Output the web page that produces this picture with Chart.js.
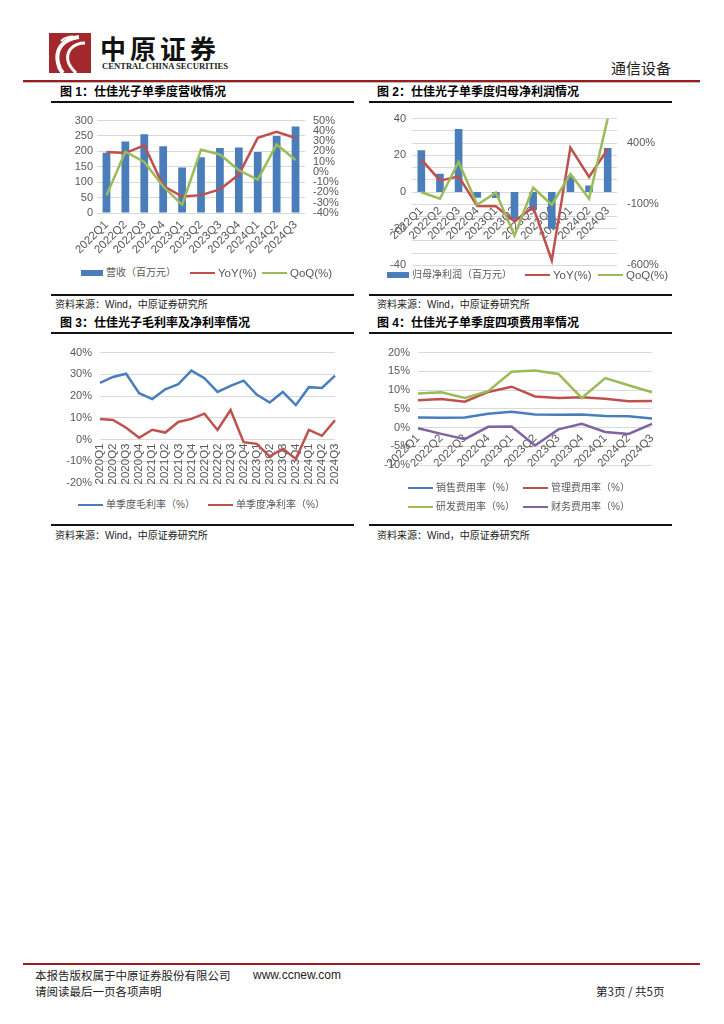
<!DOCTYPE html>
<html>
<head>
<meta charset="utf-8">
<script src="https://cdn.jsdelivr.net/npm/chart.js@4.4.1/dist/chart.umd.min.js"></script>
<style>
  body { margin: 0; background: #fff; }
  #page { position: relative; width: 724px; height: 1024px; overflow: hidden; background: #fff;
          font-family: "Liberation Sans", "Noto Sans CJK SC", sans-serif; color: #000; }
  .abs { position: absolute; white-space: nowrap; }
  .title { font-weight: bold; font-size: 12px; line-height: 14px; }
  .rule { position: absolute; height: 2px; background: #111; }
  .src { font-size: 10px; line-height: 12px; color: #222; }
  .leg { position: absolute; display: flex; align-items: center; font-size: 10px; line-height: 12px; color: #595959; white-space: nowrap; }
  .leg .lat { font-size: 11.5px; }
  canvas { position: absolute; }
</style>
</head>
<body>
<div id="page">
  <!-- header -->
  <svg class="abs" style="left:49px;top:33px" width="42" height="40" viewBox="0 0 42 40">
    <rect width="42" height="40" fill="#A3282D"/>
    <path d="M30 4 C14 6 6 16 9 30 C10 35 12 38 14 40" stroke="#fff" stroke-width="4" fill="none"/>
    <path d="M36 10 C24 10 17 18 19 28 C20 33 24 37 27 40" stroke="#fff" stroke-width="3" fill="none"/>
    <path d="M12 8 C16 4 22 3 26 4" stroke="#fff" stroke-width="2" fill="none"/>
  </svg>
  <div class="abs" style="left:100px;top:33px;font-family:'Noto Sans CJK SC';font-weight:700;font-size:26px;line-height:30px;letter-spacing:4px;color:#111">中原证券</div>
  <div class="abs" style="left:102px;top:61px;font-family:'Liberation Serif';font-weight:bold;font-size:8.6px;line-height:10px;color:#222">CENTRAL CHINA SECURITIES</div>
  <div class="abs" style="left:611px;top:59px;font-family:'Noto Sans CJK SC';font-size:15px;line-height:18px;color:#222">通信设备</div>
  <div class="abs" style="left:23px;top:80px;width:677px;height:2px;background:#9B1D20"></div>
  <div class="abs" style="left:23px;top:82px;width:677px;height:1px;background:#bbb"></div>

  <!-- titles -->
  <div class="abs title" style="left:60px;top:85px">图 1：仕佳光子单季度营收情况</div>
  <div class="rule" style="left:51px;top:101px;width:303px"></div>
  <div class="abs title" style="left:377px;top:85px">图 2：仕佳光子单季度归母净利润情况</div>
  <div class="rule" style="left:369px;top:101px;width:303px"></div>

  <div class="rule" style="left:51px;top:294px;width:303px"></div>
  <div class="abs src" style="left:55px;top:299px">资料来源：Wind，中原证券研究所</div>
  <div class="rule" style="left:369px;top:294px;width:303px"></div>
  <div class="abs src" style="left:377px;top:299px">资料来源：Wind，中原证券研究所</div>

  <div class="abs title" style="left:60px;top:316px">图 3：仕佳光子毛利率及净利率情况</div>
  <div class="rule" style="left:51px;top:332px;width:303px"></div>
  <div class="abs title" style="left:377px;top:316px">图 4：仕佳光子单季度四项费用率情况</div>
  <div class="rule" style="left:369px;top:332px;width:303px"></div>

  <div class="rule" style="left:51px;top:524px;width:303px"></div>
  <div class="abs src" style="left:55px;top:530px">资料来源：Wind，中原证券研究所</div>
  <div class="rule" style="left:369px;top:524px;width:303px"></div>
  <div class="abs src" style="left:377px;top:530px">资料来源：Wind，中原证券研究所</div>

  <canvas id="c1" width="320" height="155" style="left:40px;top:106px"></canvas>
  <canvas id="c2" width="320" height="180" style="left:365px;top:102px"></canvas>
  <canvas id="c3" width="320" height="160" style="left:40px;top:338px"></canvas>
  <canvas id="c4" width="320" height="160" style="left:365px;top:338px"></canvas>

  <!-- footer -->
  <div class="abs" style="left:23px;top:963px;width:677px;height:2px;background:#9B1D20"></div>
  <div class="abs" style="left:35px;top:968px;font-family:'Noto Sans CJK SC';font-size:11.5px;line-height:14px;color:#222">本报告版权属于中原证券股份有限公司</div>
  <div class="abs" style="left:253px;top:968px;font-size:12px;line-height:14px;color:#222">www.ccnew.com</div>
  <div class="abs" style="left:35px;top:984px;font-family:'Noto Sans CJK SC';font-size:11.5px;line-height:14px;color:#222">请阅读最后一页各项声明</div>
  <div class="abs" style="left:596px;top:984px;font-family:'Noto Sans CJK SC';font-size:11.5px;line-height:14px;color:#222">第3页 / 共5页</div>
</div>

<script>
// 季度标签
const quartersA = ["2022Q1", "2022Q2", "2022Q3", "2022Q4", "2023Q1", "2023Q2", "2023Q3", "2023Q4", "2024Q1", "2024Q2", "2024Q3"];
const quartersB = ["2020Q1", "2020Q2", "2020Q3", "2020Q4", "2021Q1", "2021Q2", "2021Q3", "2021Q4",
  "2022Q1", "2022Q2", "2022Q3", "2022Q4", "2023Q1", "2023Q2", "2023Q3", "2023Q4", "2024Q1", "2024Q2", "2024Q3"];

// 图1 营收（百万元）及增速
const revenue = [196, 232, 256, 217, 148, 181, 211, 213, 198, 250, 281];
const revenueYoY = [19.4, 18.4, 25.8, -13.5, -23.9, -22.6, -17.0, -2.6, 33.2, 39.0, 33.0];
const revenueQoQ = [-23.0, 19.7, 9.7, -14.2, -32.0, 21.6, 17.0, 1.6, -7.4, 26.8, 11.6];

// 图2 归母净利润（百万元）及增速
const netProfit = [22.7, 10.0, 34.4, -3.1, -3.3, -15.0, -9.8, -20.0, 8.6, 3.6, 24.0];
const profitYoY = [267, 93, 128, -115, -117, -240, -123, -559, 363, 123, 349];
const profitQoQ = [-2, -55, 245, -104, -5, -355, 35, -104, 147, -55, 600];

// 图3 毛利率、净利率（%）
const grossMargin = [26.1, 28.8, 30.3, 21.3, 18.6, 23.1, 25.5, 31.7, 28.2, 21.9, 24.7, 27.1, 20.7, 17.0, 21.9, 15.8, 24.1, 23.7, 29.4];
const netMargin = [9.4, 9.0, 5.4, 0.8, 4.5, 3.2, 8.1, 9.5, 11.9, 4.4, 13.6, -1.2, -2.0, -7.8, -4.2, -8.9, 4.4, 1.7, 8.9];

// 图4 四项费用率（%）
const sellingRate = [2.7, 2.6, 2.7, 3.7, 4.2, 3.5, 3.4, 3.5, 3.1, 3.0, 2.4];
const adminRate = [7.3, 7.6, 6.9, 9.5, 10.9, 8.3, 7.9, 8.1, 7.7, 7.0, 7.1];
const rdRate = [9.1, 9.4, 7.9, 9.7, 14.9, 15.2, 14.3, 7.9, 13.2, 11.3, 9.4];
const financeRate = [-0.2, -1.7, -3.1, 0.2, 0.3, -4.8, -0.5, 1.0, -1.2, -1.7, 1.0];

const BLUE = "#4A7EBB", RED = "#C0504D", GREEN = "#9BBB59", PURPLE = "#8064A2", GRID = "#D9D9D9";

Chart.defaults.font.family = '"Liberation Sans", "Noto Sans CJK SC", sans-serif';
Chart.defaults.font.size = 11;
Chart.defaults.color = "#595959";
Chart.defaults.animation = false;
Chart.defaults.plugins.legend.display = false;
Chart.defaults.plugins.tooltip.enabled = false;
Chart.defaults.elements.point.radius = 0;
Chart.defaults.elements.line.borderWidth = 2.5;
Chart.defaults.elements.line.tension = 0;

function lineSet(label, data, color, extra) {
  return Object.assign({ type: "line", label: label, data: data, borderColor: color, backgroundColor: color, fill: false }, extra || {});
}

// 图1
new Chart(document.getElementById("c1"), {
  data: {
    labels: quartersA,
    datasets: [
      lineSet("QoQ(%)", revenueQoQ, GREEN, { yAxisID: "y2", order: 1 }),
      lineSet("YoY(%)", revenueYoY, RED, { yAxisID: "y2", order: 2 }),
      { type: "bar", label: "营收（百万元）", data: revenue, backgroundColor: BLUE, yAxisID: "y",
        barPercentage: 0.41, categoryPercentage: 1, order: 3 }
    ]
  },
  options: {
    responsive: false,
    layout: { padding: { top: 11 } },
    scales: {
      x: { grid: { display: false, drawTicks: false }, border: { display: false },
           ticks: { minRotation: 45, maxRotation: 45, autoSkip: false, padding: 5, font: { size: 11.5 } },
           afterFit: (s) => { s.height = 48; } },
      y: { position: "left", min: 0, max: 300, ticks: { stepSize: 50, padding: 4, autoSkip: false },
           grid: { color: GRID, drawTicks: false }, border: { display: false },
           afterFit: (s) => { s.width = 57; } },
      y2: { position: "right", min: -40, max: 50,
            ticks: { stepSize: 10, padding: 8, autoSkip: false, callback: (v) => v + "%" },
            grid: { display: false, drawTicks: false }, border: { display: false },
            afterFit: (s) => { s.width = 55; } }
    }
  }
});

// 图2
new Chart(document.getElementById("c2"), {
  data: {
    labels: quartersA,
    datasets: [
      lineSet("QoQ(%)", profitQoQ, GREEN, { yAxisID: "y2", order: 1 }),
      lineSet("YoY(%)", profitYoY, RED, { yAxisID: "y2", order: 2 }),
      { type: "bar", label: "归母净利润（百万元）", data: netProfit, backgroundColor: BLUE, yAxisID: "y",
        barPercentage: 0.41, categoryPercentage: 1, order: 3 }
    ]
  },
  options: {
    responsive: false,
    layout: { padding: { top: 10, bottom: 4 } },
    scales: {
      x: { position: { y: 0 }, grid: { display: false, drawTicks: false }, border: { display: false },
           ticks: { minRotation: 45, maxRotation: 45, autoSkip: false, padding: 12, font: { size: 11.5 } } },
      y: { position: "left", min: -40, max: 40, ticks: { stepSize: 20, padding: 6, autoSkip: false },
           grid: { display: false, drawTicks: false }, border: { display: false },
           afterFit: (s) => { s.width = 47; } },
      y2: { position: "right", min: -600, max: 600,
            ticks: { stepSize: 100, padding: 10, autoSkip: false,
                     callback: (v) => ((v + 600) % 500 === 0 ? v + "%" : "") },
            grid: { color: GRID, drawTicks: false }, border: { display: false },
            afterFit: (s) => { s.width = 68; } }
    }
  }
});

// 图3
new Chart(document.getElementById("c3"), {
  type: "line",
  data: {
    labels: quartersB,
    datasets: [
      lineSet("单季度毛利率（%）", grossMargin, BLUE),
      lineSet("单季度净利率（%）", netMargin, RED)
    ]
  },
  options: {
    responsive: false,
    layout: { padding: { top: 12, right: 25, bottom: 15 } },
    scales: {
      x: { position: { y: 0 }, grid: { display: false, drawTicks: false }, border: { display: false },
           ticks: { minRotation: 90, maxRotation: 90, autoSkip: false, padding: 4, font: { size: 11.5 } } },
      y: { min: -20, max: 40, ticks: { stepSize: 10, padding: 8, autoSkip: false, callback: (v) => v + "%" },
           grid: { color: GRID, drawTicks: false }, border: { display: false },
           afterFit: (s) => { s.width = 60; } }
    }
  }
});

// 图4
new Chart(document.getElementById("c4"), {
  type: "line",
  data: {
    labels: quartersA,
    datasets: [
      lineSet("财务费用率（%）", financeRate, PURPLE),
      lineSet("研发费用率（%）", rdRate, GREEN),
      lineSet("管理费用率（%）", adminRate, RED),
      lineSet("销售费用率（%）", sellingRate, BLUE)
    ]
  },
  options: {
    responsive: false,
    layout: { padding: { top: 12, right: 33, bottom: 33 } },
    scales: {
      x: { position: { y: 0 }, grid: { display: false, drawTicks: false }, border: { display: false },
           ticks: { minRotation: 45, maxRotation: 45, autoSkip: false, padding: 4, font: { size: 11.5 } } },
      y: { min: -10, max: 20, ticks: { stepSize: 5, padding: 8, autoSkip: false, callback: (v) => v + "%" },
           grid: { color: GRID, drawTicks: false }, border: { display: false },
           afterFit: (s) => { s.width = 53; } }
    }
  }
});

// 图例
function addLegend(items) {
  const page = document.getElementById("page");
  items.forEach((it) => {
    const d = document.createElement("div");
    d.className = "leg";
    d.style.left = it.x + "px";
    d.style.top = (it.y - 6) + "px";
    const sw = document.createElement("span");
    sw.style.display = "inline-block";
    sw.style.background = it.color;
    sw.style.width = (it.box ? 22 : 25) + "px";
    sw.style.height = (it.box ? 6 : 2.5) + "px";
    sw.style.marginRight = "3px";
    d.appendChild(sw);
    const t = document.createElement("span");
    t.textContent = it.label;
    if (/^[A-Za-z]/.test(it.label)) t.className = "lat";
    d.appendChild(t);
    page.appendChild(d);
  });
}
addLegend([
  { x: 81, y: 273, label: "营收（百万元）", color: BLUE, box: true },
  { x: 190, y: 273, label: "YoY(%)", color: RED },
  { x: 262, y: 273, label: "QoQ(%)", color: GREEN },
  { x: 387, y: 275, label: "归母净利润（百万元）", color: BLUE, box: true },
  { x: 525, y: 275, label: "YoY(%)", color: RED },
  { x: 598, y: 275, label: "QoQ(%)", color: GREEN },
  { x: 78, y: 505, label: "单季度毛利率（%）", color: BLUE },
  { x: 208, y: 505, label: "单季度净利率（%）", color: RED },
  { x: 408, y: 488, label: "销售费用率（%）", color: BLUE },
  { x: 523, y: 488, label: "管理费用率（%）", color: RED },
  { x: 408, y: 507, label: "研发费用率（%）", color: GREEN },
  { x: 523, y: 507, label: "财务费用率（%）", color: PURPLE }
]);
</script>
</body>
</html>
